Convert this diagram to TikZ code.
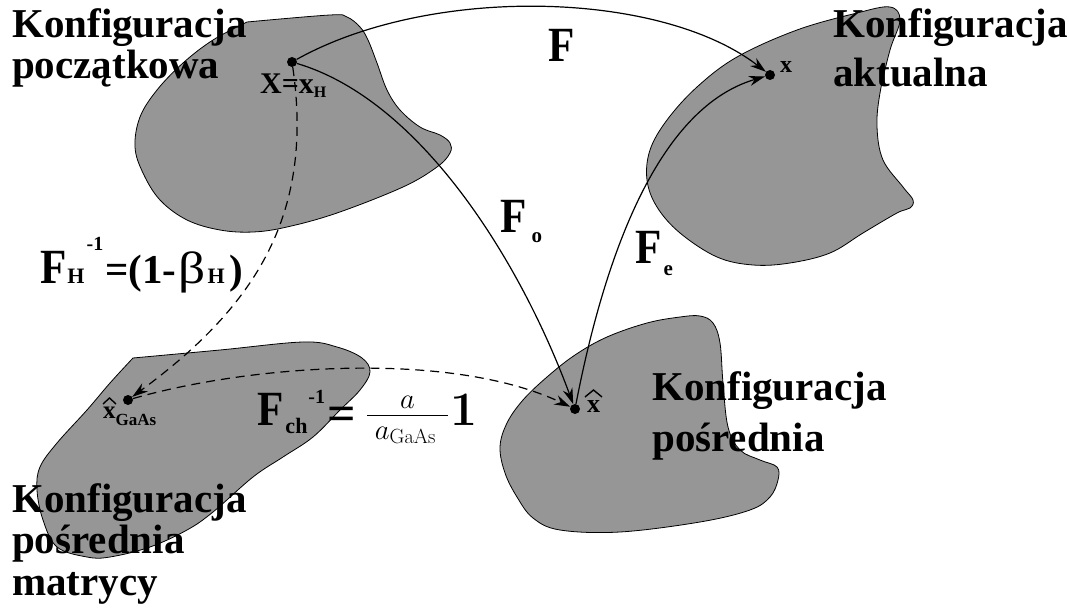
\RequirePackage{fix-cm}
\documentclass[tikz,border=0pt]{standalone}
\usepackage[no-math]{fontspec}
\setmainfont{Liberation Serif}
\usetikzlibrary{arrows.meta}
\definecolor{blobgray}{RGB}{150,150,150}
\newcommand{\FF}{\scalebox{1.05}[1.2]{F}}
\newcommand{\myfs}[1]{\fontsize{#1}{#1}\selectfont}
\begin{document}
\begin{tikzpicture}[x=1pt,y=-1pt,
  blob/.style={draw=black, line width=0.8pt, fill=blobgray},
  lab/.style={font=\bfseries\myfs{41}, inner sep=0pt, anchor=base west},
  dot/.style={circle, fill=black, inner sep=0pt, minimum size=10pt},
  arr/.style={line width=1.2pt, -{Stealth[length=16pt, width=10pt]}},
  dashline/.style={dash pattern=on 9pt off 6pt},
  hat/.style={line width=1.4pt, line join=miter}]
\useasboundingbox (0,0) rectangle (1069,610);
% blobs
\draw[blob] plot[smooth, tension=0.6] coordinates {(247,22) (330,15) (347,17) (360,27) (368,40) (377,63) (387,90) (400,110) (420,127) (440,135) (450,143) (450,153) (437,167) (403,187) (337,213) (287,227) (253,232) (220,230) (187,220) (160,200) (143,173) (135,147) (140,117) (157,90) (183,63) (213,40) (247,22)} -- cycle;
\draw[blob] plot[smooth cycle, tension=0.6] coordinates {(890,7) (900,20) (890,50) (880,93) (877,127) (883,160) (903,187) (913,200) (910,208) (897,213) (863,233) (830,253) (790,263) (753,265) (717,257) (680,233) (657,207) (647,180) (650,150) (667,120) (697,87) (737,57) (797,30) (857,13)};
\draw[blob] plot[smooth, tension=0.6] coordinates {(133,358) (220,350) (303,342) (337,347) (362,358) (370,372) (360,390) (340,410) (313,437) (283,457) (253,477) (213,512) (187,530) (150,547) (110,557) (87,557) (57,547) (43,520) (37,490) (40,467) (57,443) (87,410) (110,383) (133,358)} -- cycle;
\draw[blob] plot[smooth cycle, tension=0.6] coordinates {(607,337) (647,323) (680,317) (700,316) (713,323) (720,343) (723,383) (728,427) (740,450) (760,460) (777,467) (778,480) (770,497) (750,510) (700,522) (620,532) (560,530) (533,518) (517,497) (505,473) (500,447) (507,423) (523,400) (547,377) (575,355)};
% points
\node[dot] (X) at (292,62) {};
\node[dot] (x) at (770,75) {};
\node[dot] (xh) at (575,409) {};
\node[dot] (xg) at (128,400) {};
% connectors
\draw[arr] (X) .. controls (430,-15) and (660,-10) .. (x);
\draw[arr] (X) .. controls (420,100) and (520,260) .. (xh);
\draw[arr] (xh) .. controls (600,280) and (650,110) .. (x);
\draw[arr,dashline] (X) .. controls (315,220) and (250,310) .. (xg);
\draw[arr,dashline] (xg) .. controls (250,365) and (450,350) .. (xh);
% labels
\node[lab] (c1a) at (12,38) {Konfiguracja};
\node[lab] (c1b) at (12,79) {początkowa};
\node[lab] (c2a) at (833,38) {Konfiguracja};
\node[lab] (c2b) at (833,87) {aktualna};
\node[lab] (c3a) at (652,400) {Konfiguracja};
\node[lab] (c3b) at (652,451) {pośrednia};
\node[lab] (c4a) at (12,512) {Konfiguracja};
\node[lab] (c4b) at (12,553) {pośrednia};
\node[lab] (c4c) at (12,595) {matrycy};
\node[lab] (lF) at (548,62) {\FF};
\node[lab] (lFo) at (500,232) {\FF\kern5pt\raisebox{-10pt}{\myfs{21}o}};
\node[lab] (lFe) at (635,263) {\FF\kern2pt\raisebox{-12pt}{\myfs{21}e}};
\node[lab, font=\bfseries\myfs{30}] (lX) at (260,93) {X=x\raisebox{-4pt}{\myfs{16}H}};
\node[lab, font=\bfseries\myfs{24}] (lx) at (780,73) {x};
\node[lab, font=\bfseries\myfs{26}] (lxh) at (587,412) {x};
\draw[hat] (585,397) -- (593.5,390) -- (602,397);
\node[lab, font=\bfseries\myfs{25}] (lxg) at (103,418) {x\raisebox{-7pt}{\myfs{17}GaAs}};
\draw[hat] (103,404) -- (109.5,398) -- (116,404);
\node[lab] (lFH) at (40,283) {\FF\kern1pt{\myfs{22}H}\kern2pt\raisebox{33pt}{\myfs{20}-1}\kern2pt=(1-\kern2pt{\mdseries\scalebox{1.3}[1.1]{β}}\kern2pt{\myfs{22}H}\kern5pt)};
\node[lab] (lFch) at (257,425) {\FF\kern2pt\raisebox{-8pt}{\myfs{22}ch}\kern1pt\raisebox{22pt}{\myfs{20}-1}\kern2pt\raisebox{-5pt}{\myfs{50}=}\kern10pt$\frac{a}{\hspace{8pt}a_{\mathrm{GaAs}}\hspace{12pt}}$\kern1pt{\myfs{48}$\mathbf{1}$}};
\end{tikzpicture}
\end{document}
